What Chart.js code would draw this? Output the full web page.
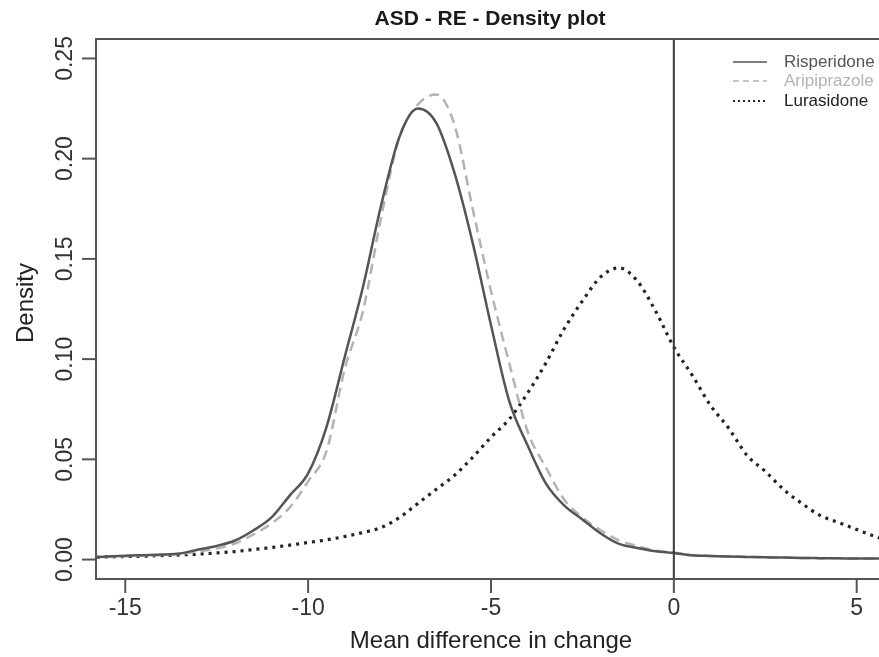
<!DOCTYPE html>
<html>
<head>
<meta charset="utf-8">
<script src="https://cdn.jsdelivr.net/npm/chart.js@4"></script>
<style>
  html, body { margin: 0; padding: 0; background: #fff; overflow: hidden; }
  canvas { display: block; }
</style>
</head>
<body>
<canvas id="densityChart" width="879" height="657"></canvas>
<script>
// x grid of the density estimates (mean difference in change)
const xValues = [
  -16, -15.5, -15, -14.5, -14, -13.5, -13, -12.5, -12, -11.5, -11, -10.5,
  -10, -9.5, -9, -8.5, -8, -7.5, -7, -6.5, -6, -5.5, -5, -4.5, -4, -3.5,
  -3, -2.5, -2, -1.5, -1, -0.5, 0, 0.5, 1, 1.5, 2, 2.5, 3, 3.5, 4, 4.5,
  5, 5.5, 6
];

const risperidone = [
  0.0010, 0.0015, 0.0019, 0.0022, 0.0025, 0.0030, 0.0050, 0.0068, 0.0095, 0.0145, 0.0210, 0.0320,
  0.0430, 0.0660, 0.1010, 0.1360, 0.1770, 0.2110, 0.2250, 0.2180, 0.1930, 0.1580, 0.1170, 0.0790, 0.0570, 0.0380,
  0.0270, 0.0200, 0.0130, 0.0078, 0.0058, 0.0042, 0.0033, 0.0021, 0.0018, 0.0015, 0.0013, 0.0011, 0.0010, 0.0008, 0.0007, 0.0006,
  0.0005, 0.0005, 0.0004
];

const aripiprazole = [
  0.0010, 0.0013, 0.0016, 0.0020, 0.0023, 0.0028, 0.0040, 0.0055, 0.0080, 0.0125, 0.0180, 0.0260,
  0.0390, 0.0540, 0.0950, 0.1240, 0.1710, 0.2110, 0.2270, 0.2320, 0.2170, 0.1750, 0.1340, 0.0980, 0.0640, 0.0460,
  0.0300, 0.0210, 0.0146, 0.0095, 0.0068, 0.0045, 0.0035, 0.0022, 0.0018, 0.0015, 0.0013, 0.0011, 0.0010, 0.0008, 0.0007, 0.0006,
  0.0005, 0.0005, 0.0004
];

const lurasidone = [
  0.0010, 0.0013, 0.0015, 0.0017, 0.0020, 0.0023, 0.0027, 0.0033, 0.0040, 0.0050, 0.0060, 0.0072,
  0.0085, 0.0098, 0.0115, 0.0135, 0.0160, 0.0210, 0.0280, 0.0350, 0.0420, 0.0510, 0.0610, 0.0700, 0.0830, 0.0980,
  0.1150, 0.1290, 0.1410, 0.1455, 0.1390, 0.1240, 0.1060, 0.0920, 0.0770, 0.0655, 0.0520, 0.0440, 0.0350, 0.0280, 0.0220, 0.0185,
  0.0150, 0.0115, 0.0090
];

const xTicks = [-15, -10, -5, 0, 5];
const yTicks = [0, 0.05, 0.10, 0.15, 0.20, 0.25];
const yTickLabels = ['0.00', '0.05', '0.10', '0.15', '0.20', '0.25'];
const refLineX = 0;

const seriesNames = ['Risperidone', 'Aripiprazole', 'Lurasidone'];
const seriesColors = ['#555555', '#b3b3b3', '#222222'];
const seriesDashes = [[], [10, 6], [3, 5]];
const seriesWidths = [2.5, 2.5, 3.2];

const FONT = '"Liberation Sans", Arial, Helvetica, sans-serif';

function toPoints(values) {
  return xValues.map((x, i) => ({ x: x, y: values[i] }));
}

// R-style box, ticks, labels, legend and the vertical reference line
const baseGraphics = {
  id: 'baseGraphics',
  afterDatasetsDraw(chart) {
    const ctx = chart.ctx;
    const area = chart.chartArea;
    const xs = chart.scales.x;
    const ys = chart.scales.y;

    ctx.save();

    // vertical line at 0
    const x0 = xs.getPixelForValue(refLineX);
    ctx.strokeStyle = '#3a3a3a';
    ctx.lineWidth = 2;
    ctx.beginPath();
    ctx.moveTo(x0, area.top);
    ctx.lineTo(x0, area.bottom);
    ctx.stroke();

    // box (right side falls outside the picture)
    ctx.strokeStyle = '#555';
    ctx.lineWidth = 2;
    ctx.beginPath();
    ctx.moveTo(area.right + 10, area.top);
    ctx.lineTo(area.left, area.top);
    ctx.lineTo(area.left, area.bottom);
    ctx.lineTo(area.right + 10, area.bottom);
    ctx.stroke();

    // y ticks
    ctx.fillStyle = '#333';
    ctx.font = '23px ' + FONT;
    yTicks.forEach((v, i) => {
      const y = ys.getPixelForValue(v);
      ctx.beginPath();
      ctx.moveTo(area.left - 14, y);
      ctx.lineTo(area.left, y);
      ctx.stroke();
      ctx.save();
      ctx.translate(area.left - 30, y);
      ctx.rotate(-Math.PI / 2);
      ctx.textAlign = 'center';
      ctx.textBaseline = 'middle';
      ctx.fillText(yTickLabels[i], 0, 0);
      ctx.restore();
    });

    // x ticks
    xTicks.forEach(v => {
      const x = xs.getPixelForValue(v);
      ctx.beginPath();
      ctx.moveTo(x, area.bottom);
      ctx.lineTo(x, area.bottom + 14);
      ctx.stroke();
      ctx.textAlign = 'center';
      ctx.textBaseline = 'middle';
      ctx.fillText(String(v), x, area.bottom + 30);
    });

    // axis titles
    ctx.fillStyle = '#222';
    ctx.font = '24px ' + FONT;
    ctx.textAlign = 'center';
    ctx.textBaseline = 'middle';
    ctx.fillText('Mean difference in change', 491, 641);
    ctx.save();
    ctx.translate(26, 303);
    ctx.rotate(-Math.PI / 2);
    ctx.fillText('Density', 0, 0);
    ctx.restore();

    // main title
    ctx.font = 'bold 21px ' + FONT;
    ctx.fillStyle = '#1a1a1a';
    ctx.fillText('ASD - RE - Density plot', 490, 19);

    // legend
    ctx.font = '17px ' + FONT;
    ctx.textAlign = 'left';
    const legendY = [62, 81, 101];
    seriesNames.forEach((name, i) => {
      ctx.strokeStyle = seriesColors[i];
      ctx.lineWidth = i === 2 ? 2 : 1.6;
      ctx.setLineDash(i === 1 ? [6, 4] : i === 2 ? [2, 3] : []);
      ctx.beginPath();
      ctx.moveTo(733, legendY[i]);
      ctx.lineTo(767, legendY[i]);
      ctx.stroke();
      ctx.setLineDash([]);
      ctx.fillStyle = seriesColors[i];
      ctx.fillText(name, 784, legendY[i]);
    });

    ctx.restore();
  }
};

const ctx = document.getElementById('densityChart').getContext('2d');
new Chart(ctx, {
  type: 'line',
  data: {
    datasets: seriesNames.map((name, i) => ({
      label: name,
      data: toPoints([risperidone, aripiprazole, lurasidone][i]),
      borderColor: seriesColors[i],
      borderWidth: seriesWidths[i],
      borderDash: seriesDashes[i],
      pointRadius: 0,
      fill: false,
      cubicInterpolationMode: 'monotone'
    }))
  },
  options: {
    responsive: false,
    animation: false,
    devicePixelRatio: 1,
    layout: { padding: { left: 96, top: 39, right: 0, bottom: 78 } },
    scales: {
      x: { type: 'linear', min: -15.8, max: 5.61, display: false },
      y: { type: 'linear', min: -0.0097, max: 0.2597, display: false }
    },
    plugins: {
      legend: { display: false },
      tooltip: { enabled: false }
    }
  },
  plugins: [baseGraphics]
});
</script>
</body>
</html>
